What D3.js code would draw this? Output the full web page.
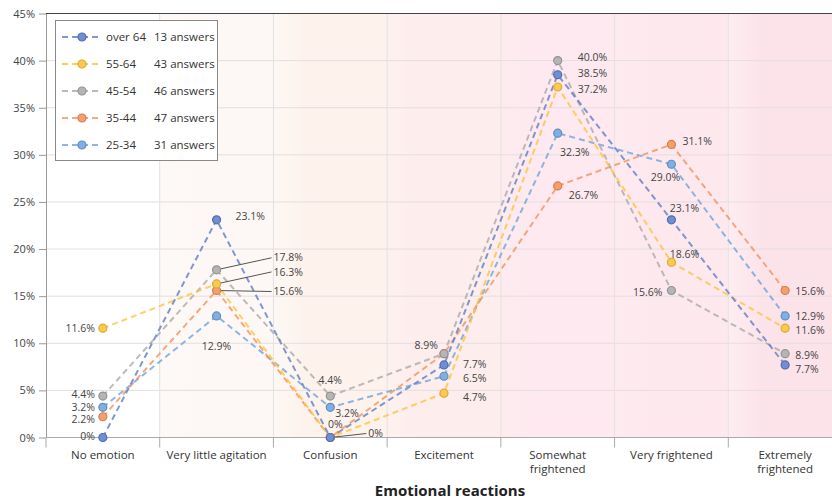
<!DOCTYPE html>
<html><head><meta charset="utf-8">
<script src="https://cdn.jsdelivr.net/npm/d3@7"></script>
<style>
body{margin:0;background:#fff;}
text{font-family:"Open Sans","DejaVu Sans",sans-serif;}
</style></head>
<body><svg id="c" width="832" height="502"></svg>
<script>
const categories = ["No emotion","Very little agitation","Confusion","Excitement","Somewhat frightened","Very frightened","Extremely frightened"];
const seriesNames = ["over 64","55-64","45-54","35-44","25-34"];
const answerCounts = [13,43,46,47,31];
const over64 = [0,23.1,0,7.7,38.5,23.1,7.7];
const age5564 = [11.6,16.3,0,4.7,37.2,18.6,11.6];
const age4554 = [4.4,17.8,4.4,8.9,40.0,15.6,8.9];
const age3544 = [2.2,15.6,0,8.9,26.7,31.1,15.6];
const age2534 = [3.2,12.9,3.2,6.5,32.3,29.0,12.9];
const yTicks = [0,5,10,15,20,25,30,35,40,45];

const seriesValues = [over64, age5564, age4554, age3544, age2534];
const colors = ["#5f7ec6","#fcc441","#aaaaaa","#f2945e","#6fa4dc"];
const fills = ["#6f8ed6","#fdc94d","#b5b5b5","#f59f6b","#7fb0e4"];
const bandColors = [["#ffffff","#ffffff"],["#fdf9f6","#fdf8f5"],["#fdf8f4","#fdf2ec"],["#fdf1ee","#fdeded"],["#fdebef","#fde9ef"],["#fdebf0","#fde8ee"],["#fdedf1","#fce3ea"]];

// label placement: [series, category, dx, dy, anchor, leader]
const labelPlacement = [
 [1,0,-8,0,"end",0],[2,0,-8,-2,"end",0],[4,0,-8,-0.5,"end",0],[3,0,-8,3,"end",0],[0,0,-8,-1,"end",0],
 [0,1,19,-4,"start",0],[4,1,0,30,"middle",0],[2,1,57,-12,"start",1],[1,1,57,-12,"start",1],[3,1,57,1,"start",1],
 [2,2,0,-16,"middle",0],[4,2,5,6,"start",0],[0,2,5,-13,"middle",0],[3,2,38,-4,"start",1],
 [3,3,-6,-8,"end",0],[0,3,19,-1,"start",0],[4,3,19,2,"start",0],[1,3,19,4,"start",0],
 [2,4,20,-3,"start",0],[0,4,20,-1,"start",0],[1,4,20,2,"start",0],[4,4,17,19,"middle",0],[3,4,11,9,"start",0],
 [3,5,11,-3,"start",0],[4,5,-6,13,"middle",0],[0,5,13,-12,"middle",0],[1,5,13,-8,"middle",0],[2,5,-9,2,"end",0],
 [3,6,10,1,"start",0],[4,6,10,0,"start",0],[1,6,10,2,"start",0],[2,6,10,2,"start",0],[0,6,10,4,"start",0]
];

const svg = d3.select("#c");
const x = d3.scaleBand().domain(categories).range([46,842]).padding(0);
const y = d3.scaleLinear().domain([0,45]).range([437.5,13.5]);
const cx = c => x(c) + x.bandwidth()/2;

const defs = svg.append("defs");
categories.forEach((c,i)=>{
  const g = defs.append("linearGradient").attr("id","bg"+i).attr("x1","0").attr("x2","1").attr("y1","0").attr("y2","0");
  g.append("stop").attr("offset","0").attr("stop-color",bandColors[i][0]);
  g.append("stop").attr("offset","0.3").attr("stop-color",bandColors[i][1]);
  g.append("stop").attr("offset","1").attr("stop-color",bandColors[i][1]);
});
svg.append("g").selectAll("rect").data(categories).join("rect")
  .attr("x",d=>x(d)).attr("y",y(45)).attr("width",x.bandwidth()).attr("height",y(0)-y(45))
  .attr("fill",(d,i)=>`url(#bg${i})`);

// gridlines
svg.append("g").selectAll("line").data(yTicks.slice(1,-1)).join("line")
  .attr("x1",46).attr("x2",832).attr("y1",d=>y(d)).attr("y2",d=>y(d))
  .attr("stroke","#e4dede").attr("stroke-width",1);
svg.append("g").selectAll("line").data(categories.slice(1)).join("line")
  .attr("x1",d=>x(d)).attr("x2",d=>x(d)).attr("y1",y(45)).attr("y2",y(0))
  .attr("stroke","#e6e0e0").attr("stroke-width",1);

// top border
svg.append("line").attr("x1",46).attr("x2",832).attr("y1",y(45)).attr("y2",y(45)).attr("stroke","#444").attr("stroke-width",1.2);

// y axis
const yAxis = svg.append("g").attr("transform","translate(46,0)")
  .call(d3.axisLeft(y).tickValues(yTicks).tickFormat(d=>d+"%").tickSize(7).tickSizeOuter(0));
yAxis.select(".domain").attr("stroke","#999");
yAxis.selectAll(".tick line").attr("stroke","#999");
yAxis.selectAll("text").attr("fill","#444").attr("font-size","11px").attr("dx","-1");

// x axis
const xAxis = svg.append("g").attr("transform",`translate(0,${y(0)})`);
xAxis.append("line").attr("x1",46).attr("x2",832).attr("stroke","#aaa");
xAxis.selectAll("line.t").data(categories.slice(1)).join("line").attr("class","t")
  .attr("x1",d=>x(d)).attr("x2",d=>x(d)).attr("y1",0).attr("y2",10).attr("stroke","#aaa");
xAxis.append("line").attr("x1",46).attr("x2",46).attr("y1",0).attr("y2",10).attr("stroke","#aaa");
const xl = xAxis.selectAll("text.c").data(categories).join("text").attr("class","c")
  .attr("x",d=>cx(d)).attr("y",21).attr("text-anchor","middle").attr("fill","#333").attr("font-size","11.5px");
xl.each(function(d){
  const el = d3.select(this);
  const parts = (d==="Somewhat frightened"||d==="Extremely frightened") ? d.split(" ") : [d];
  parts.forEach((p,i)=> el.append("tspan").attr("x",cx(d)).attr("dy",i?14:0).text(p));
});
svg.append("text").attr("x",450).attr("y",496).attr("text-anchor","middle")
  .attr("font-size","15px").attr("font-weight","bold").attr("fill","#222").text("Emotional reactions");

// lines
const line = d3.line().x((d,i)=>cx(categories[i])).y(d=>y(d));
const drawOrder = [4,3,2,1,0];
drawOrder.forEach(s=>{
  svg.append("path").datum(seriesValues[s]).attr("d",line).attr("fill","none")
    .attr("stroke",colors[s]).attr("stroke-width",2).attr("stroke-dasharray","6,4").attr("opacity",0.8);
});

// leader lines
const fmt = v => v===0 ? "0%" : v.toFixed(1)+"%";
labelPlacement.filter(l=>l[5]).forEach(([s,c,dx,dy])=>{
  const px = cx(categories[c]), py = y(seriesValues[s][c]);
  svg.append("line").attr("x1",px).attr("y1",py).attr("x2",px+dx-2).attr("y2",py+dy)
    .attr("stroke","#555").attr("stroke-width",1);
});

// markers
drawOrder.forEach(s=>{
  svg.append("g").selectAll("circle").data(seriesValues[s]).join("circle")
    .attr("cx",(d,i)=>cx(categories[i])).attr("cy",d=>y(d)).attr("r",4)
    .attr("fill",fills[s]).attr("stroke",d3.color(colors[s]).darker(0.4)).attr("stroke-width",1.2);
});

// labels
labelPlacement.forEach(([s,c,dx,dy,anchor])=>{
  const px = cx(categories[c]), py = y(seriesValues[s][c]);
  svg.append("text").attr("x",px+dx).attr("y",py+dy).attr("dy","0.35em")
    .attr("text-anchor",anchor).attr("font-size","10.5px").attr("fill","#444")
    .text(fmt(seriesValues[s][c]));
});

// legend
const lg = svg.append("g");
lg.append("rect").attr("x",55.5).attr("y",20.5).attr("width",162).attr("height",140)
  .attr("fill","#fff").attr("stroke","#888").attr("stroke-width",1);
seriesNames.forEach((n,i)=>{
  const yy = 37 + i*27;
  lg.append("line").attr("x1",62).attr("x2",101).attr("y1",yy).attr("y2",yy)
    .attr("stroke",colors[i]).attr("stroke-width",2).attr("stroke-dasharray","6,4").attr("opacity",0.8);
  lg.append("circle").attr("cx",82).attr("cy",yy).attr("r",4).attr("fill",fills[i])
    .attr("stroke",d3.color(colors[i]).darker(0.4)).attr("stroke-width",1.2);
  lg.append("text").attr("x",106).attr("y",yy).attr("dy","0.35em").attr("font-size","11.5px").attr("fill","#333").text(n);
  lg.append("text").attr("x",154).attr("y",yy).attr("dy","0.35em").attr("font-size","11.5px").attr("fill","#333").text(answerCounts[i]+" answers");
});
</script></body></html>
